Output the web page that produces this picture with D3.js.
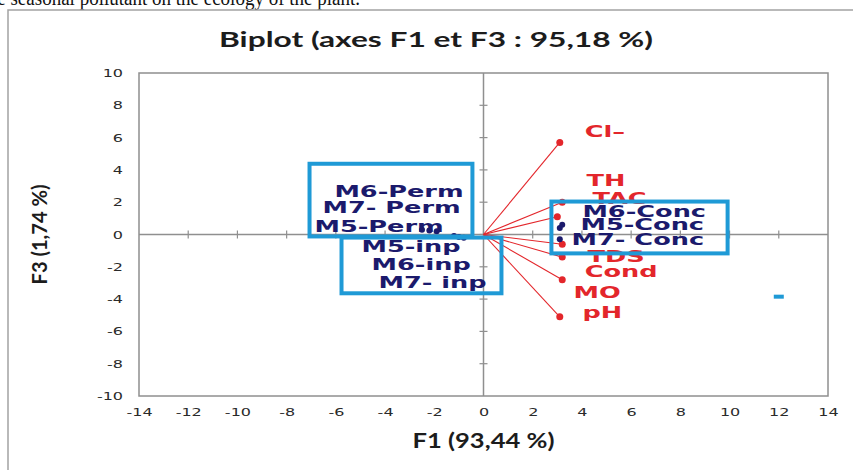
<!DOCTYPE html>
<html>
<head>
<meta charset="utf-8">
<script src="https://cdn.jsdelivr.net/npm/d3@7/dist/d3.min.js"></script>
<style>
body{margin:0;background:#fff}
svg{display:block}
</style>
</head>
<body>
<svg id="chart"></svg>
<script>
// axis ticks
var xTicks = [-14, -12, -10, -8, -6, -4, -2, 0, 2, 4, 6, 8, 10, 12, 14]
var yTicks = [-10, -8, -6, -4, -2, 0, 2, 4, 6, 8, 10]

// variables (red vectors)
var varNames = ['Cl\u2013', 'TH', 'TAC', 'TDS', 'Cond', 'MO', 'pH']
var varF1 = [3.1, 3.2, 3.0, 3.2, 3.2, 3.2, 3.1]
var varF3 = [5.7, 2.0, 1.1, -0.6, -1.4, -2.8, -5.1]
// where the labels were dragged to (axis units)
var varLabelF1 = [4.11, 4.19, 4.43, 4.23, 4.11, 3.66, 4.02]
var varLabelF3 = [6.04, 3.0, 1.89, -1.70, -2.63, -3.93, -5.17]

// observations
var obsNames = ['M5-Perm', 'M6-Perm', 'M7- Perm', 'M5-inp', 'M6-inp', 'M7- inp', 'M5-Conc', 'M6-Conc', 'M7- Conc']
var obsF1 = [-2.5, -1.9, -2.2, -0.8, -1.2, -1.0, 3.1, 3.2, 3.1]
var obsF3 = [0.3, 0.2, 0.25, -0.2, -0.1, -0.15, 0.4, 0.6, -0.3]
var obsLabelF1 = [-6.87, -6.06, -6.54, -4.96, -4.55, -4.27, 3.94, 4.02, 3.58]
var obsLabelF3 = [0.15, 2.32, 1.33, -1.08, -2.20, -3.31, 0.28, 1.08, -0.65]

// grouping boxes (axis units)
var groupNames = ['Perm', 'inp', 'Conc']
var groupF1 = [[-7.07, -0.45], [-5.77, 0.73], [2.76, 9.92]]
var groupF3 = [[4.38, -0.12], [-0.19, -3.64], [2.04, -1.17]]

// stray marker on the right
var strayF1 = [12.0]
var strayF3 = [-3.85]

var W = 853, H = 470
var plot = {left: 139, right: 828, top: 73, bottom: 396}
var sx = 1.6   // the original picture is stretched sideways

var red = '#e3262b', navy = '#1b1a6c', blue = '#1f9ad6', grey = '#8f8f8f'

var svg = d3.select('#chart').attr('width', W).attr('height', H)
	.style('font-family', 'DejaVu Sans, Verdana, sans-serif')

svg.append('rect').attr('width', W).attr('height', H).attr('fill', '#fff')

var x = d3.scaleLinear().domain([-14, 14]).range([plot.left, plot.right])
var y = d3.scaleLinear().domain([-10, 10]).range([plot.bottom, plot.top])

// page text cut at the top + page frame
svg.append('text')
	.attr('x', -8).attr('y', 5)
	.attr('font-family', 'Liberation Serif, serif')
	.attr('font-size', 20)
	.attr('fill', '#111')
	.attr('textLength', 368).attr('lengthAdjust', 'spacingAndGlyphs')
	.text('le seasonal pollutant on the ecology of the plant.')

svg.append('path')
	.attr('d', 'M8,' + H + 'V10H' + W)
	.attr('fill', 'none').attr('stroke', '#a3a3a3').attr('stroke-width', 1.5)

// title
svg.append('text')
	.attr('x', 436).attr('y', 47)
	.attr('text-anchor', 'middle')
	.attr('font-family', 'Lato, Open Sans, sans-serif')
	.attr('font-weight', 'bold').attr('font-size', 21)
	.attr('fill', '#1c1c1c')
	.attr('textLength', 434).attr('lengthAdjust', 'spacingAndGlyphs')
	.text('Biplot (axes F1 et F3 : 95,18 %)')

// plot frame
svg.append('rect')
	.attr('x', plot.left).attr('y', plot.top)
	.attr('width', plot.right - plot.left).attr('height', plot.bottom - plot.top)
	.attr('fill', 'none').attr('stroke', grey).attr('stroke-width', 1.5)

// tick labels with d3 axes (plain hyphen, like the original)
var fmt = function(d){ return String(d) }

var gx = svg.append('g')
	.attr('transform', 'translate(0,' + (plot.bottom + 20) + ')')
	.call(d3.axisBottom(x).tickValues(xTicks).tickSize(0).tickPadding(0).tickFormat(fmt))
gx.select('.domain').remove()
gx.selectAll('text')
	.attr('y', 0).attr('dy', 0)
	.attr('transform', 'scale(' + sx + ',1)')
	.attr('font-size', 10).attr('fill', '#2a2a2a')
	.attr('font-family', 'DejaVu Sans, sans-serif')

var gy = svg.append('g')
	.attr('transform', 'translate(' + (plot.left - 16) + ',0)')
	.call(d3.axisLeft(y).tickValues(yTicks).tickSize(0).tickPadding(0).tickFormat(fmt))
gy.select('.domain').remove()
gy.selectAll('text')
	.attr('x', 0).attr('dy', '0.35em')
	.attr('transform', 'scale(' + sx + ',1)')
	.attr('font-size', 10).attr('fill', '#2a2a2a')
	.attr('font-family', 'DejaVu Sans, sans-serif')

// axis titles
svg.append('text')
	.attr('x', x(0)).attr('y', 448)
	.attr('text-anchor', 'middle')
	.attr('font-family', 'Lato, Open Sans, sans-serif')
	.attr('font-weight', 'bold').attr('font-size', 21)
	.attr('fill', '#1c1c1c')
	.attr('textLength', 142).attr('lengthAdjust', 'spacingAndGlyphs')
	.text('F1 (93,44 %)')

svg.append('text')
	.attr('transform', 'translate(47,' + y(0) + ') scale(' + sx + ',1) rotate(-90)')
	.attr('text-anchor', 'middle')
	.attr('font-family', 'Lato, Open Sans, sans-serif')
	.attr('font-weight', 'bold').attr('font-size', 13)
	.attr('fill', '#1c1c1c')
	.attr('textLength', 100).attr('lengthAdjust', 'spacingAndGlyphs')
	.text('F3 (1,74 %)')

// zero lines with cross ticks
svg.append('line')
	.attr('x1', plot.left).attr('x2', plot.right).attr('y1', y(0)).attr('y2', y(0))
	.attr('stroke', grey).attr('stroke-width', 1.5)
svg.append('line')
	.attr('x1', x(0)).attr('x2', x(0)).attr('y1', plot.top).attr('y2', plot.bottom)
	.attr('stroke', grey).attr('stroke-width', 1.5)

svg.append('g').selectAll('line')
	.data(xTicks.filter(function(d){ return Math.abs(d) < 14 })).enter().append('line')
	.attr('x1', function(d){ return x(d) }).attr('x2', function(d){ return x(d) })
	.attr('y1', y(0) - 4).attr('y2', y(0) + 4)
	.attr('stroke', grey).attr('stroke-width', 1.2)
svg.append('g').selectAll('line')
	.data(yTicks.filter(function(d){ return Math.abs(d) < 10 })).enter().append('line')
	.attr('y1', function(d){ return y(d) }).attr('y2', function(d){ return y(d) })
	.attr('x1', x(0) - 4).attr('x2', x(0) + 4)
	.attr('stroke', grey).attr('stroke-width', 1.2)

// variable vectors
var vars = varNames.map(function(d, i){
	return {name: d, f1: varF1[i], f3: varF3[i], lx: varLabelF1[i], ly: varLabelF3[i]}
})
var obs = obsNames.map(function(d, i){
	return {name: d, f1: obsF1[i], f3: obsF3[i], lx: obsLabelF1[i], ly: obsLabelF3[i]}
})

svg.append('g').selectAll('line')
	.data(vars).enter().append('line')
	.attr('x1', x(0)).attr('y1', y(0))
	.attr('x2', function(d){ return x(d.f1) }).attr('y2', function(d){ return y(d.f3) })
	.attr('stroke', red).attr('stroke-width', 1.1)

svg.append('g').selectAll('circle')
	.data(vars).enter().append('circle')
	.attr('cx', function(d){ return x(d.f1) }).attr('cy', function(d){ return y(d.f3) })
	.attr('r', 3.5).attr('fill', red)

svg.append('g').selectAll('text')
	.data(vars).enter().append('text')
	.attr('transform', function(d){ return 'translate(' + x(d.lx) + ',' + y(d.ly) + ') scale(' + sx + ',1)' })
	.attr('font-weight', 'bold').attr('font-size', 16)
	.attr('fill', red)
	.text(function(d){ return d.name })

// observations
svg.append('g').selectAll('circle')
	.data(obs).enter().append('circle')
	.attr('cx', function(d){ return x(d.f1) }).attr('cy', function(d){ return y(d.f3) })
	.attr('r', 3).attr('fill', navy)

svg.append('g').selectAll('text')
	.data(obs).enter().append('text')
	.attr('transform', function(d){ return 'translate(' + x(d.lx) + ',' + y(d.ly) + ') scale(' + sx + ',1)' })
	.attr('font-weight', 'bold').attr('font-size', 16)
	.attr('fill', navy)
	.text(function(d){ return d.name })

// group boxes
svg.append('g').selectAll('rect')
	.data(groupNames).enter().append('rect')
	.attr('x', function(d, i){ return x(groupF1[i][0]) })
	.attr('y', function(d, i){ return y(groupF3[i][0]) })
	.attr('width', function(d, i){ return x(groupF1[i][1]) - x(groupF1[i][0]) })
	.attr('height', function(d, i){ return y(groupF3[i][1]) - y(groupF3[i][0]) })
	.attr('fill', 'none').attr('stroke', blue).attr('stroke-width', 4)

// stray marker
svg.append('g').selectAll('rect')
	.data(strayF1).enter().append('rect')
	.attr('x', function(d){ return x(d) - 5 })
	.attr('y', function(d, i){ return y(strayF3[i]) - 2 })
	.attr('width', 10).attr('height', 4)
	.attr('fill', blue)
</script>
</body>
</html>
